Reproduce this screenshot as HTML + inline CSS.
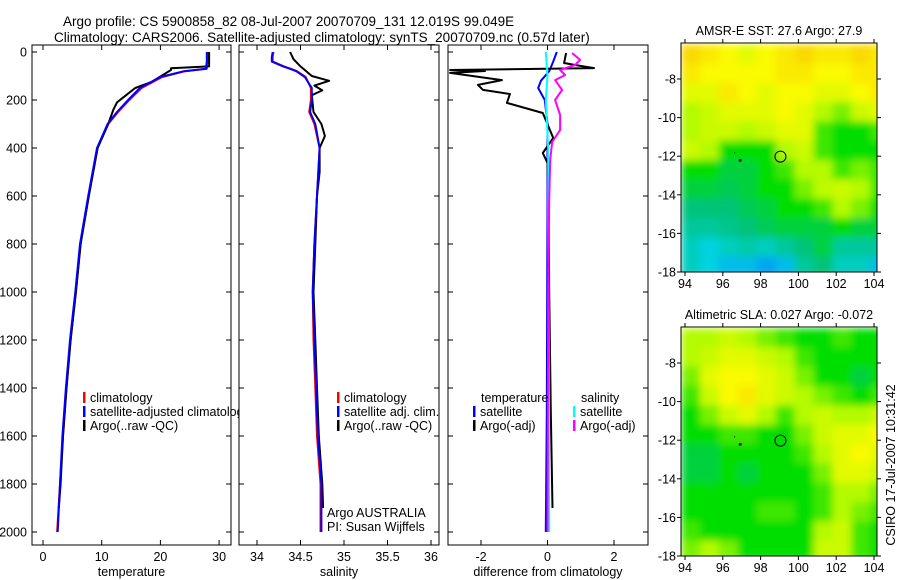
<!DOCTYPE html>
<html><head><meta charset="utf-8"><style>
body{margin:0;background:#fff;}
svg{display:block;font-family:"Liberation Sans",sans-serif;}
</style></head><body>
<svg id="c" width="900" height="580" viewBox="0 0 900 580">
<defs>
<filter id="bl" x="0" y="0" width="1" height="1"><feGaussianBlur stdDeviation="4" edgeMode="duplicate"/></filter>
<clipPath id="m1c"><rect x="681" y="43" width="196" height="229"/></clipPath>
<clipPath id="m2c"><rect x="681" y="327" width="196" height="229"/></clipPath>
<clipPath id="lg1"><rect x="0" y="380" width="238.5" height="60"/></clipPath>
</defs>
<text x="63" y="26" font-size="13.5">Argo profile: CS 5900858_82 08-Jul-2007 20070709_131 12.019S 99.049E</text>
<text x="54" y="42" font-size="13.5">Climatology: CARS2006. Satellite-adjusted climatology: synTS_20070709.nc (0.57d later)</text>
</svg>
<script>
// ---- data ----
const depths = [0,20,40,60,70,80,104,150,200,250,300,400,600,800,1000,1200,1400,1600,1800,2000];
const tempSat = [27.9,27.9,27.9,27.8,27.8,24,20,16.5,14.5,12.6,11,9.2,7.7,6.3,5.5,4.6,3.9,3.3,2.9,2.5];
const tempClim = [28,28,28,27.9,27.9,24.2,20.3,16.8,14.7,12.8,11.1,9.3,7.8,6.4,5.6,4.7,4,3.4,2.9,2.4];
const argoTempDepths = [0,30,60,68,75,117,125,150,210,240,300,400,600,800,1000,1200,1400,1600,1800,1900];
const argoTemp = [28.3,28.3,28.3,21.8,21.8,19,18.5,15.7,12.6,12,11.1,9.3,7.8,6.4,5.6,4.7,4,3.4,3,2.7];
const salSat = [34.18,34.17,34.17,34.3,34.38,34.45,34.55,34.63,34.63,34.61,34.67,34.72,34.69,34.66,34.64,34.66,34.68,34.7,34.74,34.74];
const salClim = [34.19,34.18,34.18,34.31,34.39,34.46,34.56,34.62,34.62,34.6,34.66,34.72,34.69,34.66,34.64,34.65,34.67,34.69,34.73,34.73];
const argoSalDepths = [0,30,60,100,120,140,160,180,250,300,350,400,500,600,800,1000,1200,1400,1600,1800,1900];
const argoSal = [34.38,34.42,34.5,34.63,34.83,34.66,34.75,34.63,34.65,34.74,34.78,34.72,34.72,34.69,34.67,34.65,34.67,34.69,34.71,34.75,34.76];
const diffTSatDepths = [0,40,80,120,150,200,300,600,1000,1500,2000];
const diffTSat = [0.28,0.17,0.05,-0.2,-0.28,-0.08,0,0,-0.01,-0.02,-0.05];
const diffTArgoDepths = [4,46,54,67,75,79,87,117,137,158,175,212,254,358,421,462,600,1000,1500,1900];
const diffTArgo = [0.56,0.5,0.83,1.4,-2.93,-1.88,-2.93,-1.37,-2.09,-1.94,-1.13,-1.22,-0.14,0.17,-0.14,0,0.03,0.05,0.1,0.15];
const diffSSatDepths = [0,100,200,400,1000,2000];
const diffSSat = [-0.05,0,-0.05,0.02,0.03,0.05];
const diffSArgoDepths = [4,33,54,75,96,117,158,200,262,325,375,450,617,1000,2000];
const diffSArgo = [0.74,0.98,0.83,0.38,0.53,0.23,0.44,0.23,0.38,0.38,0.14,0.08,0.05,0.02,0];
const depthTicks = [0,200,400,600,800,1000,1200,1400,1600,1800,2000];
const tempTicks = [0,10,20,30];
const salTicks = [34,34.5,35,35.5,36];
const diffTicks = [-2,0,2];
const lonTicks = [94,96,98,100,102,104];
const latTicks = [-8,-10,-12,-14,-16,-18];
const sstGrid = [
[.85,.8,.75,.7,.75,.8,.85,.8,.8,.85,.8],
[.8,.75,.75,.75,.75,.8,.8,.75,.75,.8,.8],
[.7,.7,.8,.75,.7,.75,.75,.7,.7,.75,.8],
[.6,.65,.7,.7,.7,.75,.7,.6,.55,.65,.7],
[.6,.65,.65,.6,.65,.7,.7,.5,.45,.45,.5],
[.65,.6,.45,.45,.45,.6,.65,.5,.45,.45,.45],
[.45,.45,.4,.4,.45,.5,.6,.6,.5,.55,.5],
[.4,.4,.38,.4,.45,.45,.55,.62,.65,.6,.5],
[.35,.35,.35,.38,.4,.45,.45,.5,.6,.55,.45],
[.3,.3,.32,.35,.38,.4,.4,.4,.45,.4,.4],
[.25,.2,.25,.28,.25,.3,.35,.4,.3,.3,.3],
[.25,.2,.15,.15,.1,.15,.3,.35,.25,.25,.15]];
const slaGrid = [
[.6,.6,.65,.6,.55,.5,.45,.45,.5,.45,.45],
[.6,.65,.7,.7,.65,.6,.5,.45,.45,.45,.45],
[.55,.7,.75,.75,.7,.65,.55,.45,.45,.4,.45],
[.5,.65,.75,.8,.7,.65,.6,.55,.5,.45,.5],
[.45,.55,.65,.7,.6,.5,.6,.65,.6,.6,.65],
[.45,.45,.5,.5,.45,.45,.55,.65,.7,.7,.75],
[.4,.4,.45,.45,.45,.45,.5,.6,.7,.75,.7],
[.4,.4,.45,.4,.45,.45,.45,.55,.7,.7,.65],
[.45,.45,.45,.45,.45,.45,.45,.5,.6,.6,.55],
[.45,.45,.45,.45,.5,.5,.45,.5,.6,.55,.5],
[.5,.45,.45,.45,.45,.45,.45,.6,.65,.5,.45],
[.55,.6,.55,.45,.45,.45,.45,.65,.65,.5,.45]];
const floatLon = 99.05, floatLat = -12.02;

// ---- helpers ----
const svg = document.getElementById('c');
const NS = 'http://www.w3.org/2000/svg';
function mk(tag, attrs, parent){const e=document.createElementNS(NS,tag);for(const k in attrs)e.setAttribute(k,attrs[k]);(parent||svg).appendChild(e);return e;}
const yD = d => 52 + d*0.24;
const panels = [
 {x0:32,x1:231,xs:v=>43+v*5.87,ticks:tempTicks,label:'temperature',name:'temperature-panel'},
 {x0:239,x1:439,xs:v=>257+(v-34)*87,ticks:salTicks,label:'salinity',name:'salinity-panel'},
 {x0:448,x1:648,xs:v=>547.5+v*33.25,ticks:diffTicks,label:'difference from climatology',name:'difference-panel'}];
panels.forEach((p,i)=>{
  const g=mk('g',{});
  
  
  mk('rect',{x:p.x0,y:45,width:p.x1-p.x0,height:500,fill:'none',stroke:'#000','stroke-width':1},g);
  depthTicks.forEach(d=>{
    const y=yD(d);
    mk('line',{x1:p.x0,y1:y,x2:p.x0+5,y2:y,stroke:'#000'},g);
    mk('line',{x1:p.x1,y1:y,x2:p.x1-5,y2:y,stroke:'#000'},g);
    if(i===0){const t=mk('text',{x:27,y:y+4.5,'font-size':12.5,'text-anchor':'end'},g);t.textContent=d;
      
      }
  });
  p.ticks.forEach(v=>{
    const x=p.xs(v);
    mk('line',{x1:x,y1:545,x2:x,y2:540,stroke:'#000'},g);
    mk('line',{x1:x,y1:45,x2:x,y2:50,stroke:'#000'},g);
    const t=mk('text',{x:x,y:561,'font-size':12.5,'text-anchor':'middle'},g);t.textContent=v;
    
    
  });
  const xl=mk('text',{x:(p.x0+p.x1)/2,y:576,'font-size':12.5,'text-anchor':'middle'},g);xl.textContent=p.label;
  
  
});
function line(ds,vs,xs,color,name,w){
  const pts=ds.map((d,i)=>xs(vs[i]).toFixed(1)+','+yD(d).toFixed(1)).join(' ');
  const l=mk('polyline',{points:pts,fill:'none',stroke:color,'stroke-width':w||2,'stroke-linejoin':'round'});
  
  
}
const P=panels;
line(depths,tempClim,P[0].xs,'#f00','temp-climatology-line');
line(argoTempDepths,argoTemp,P[0].xs,'#000','temp-argo-line');
line(depths,tempSat,P[0].xs,'#00f','temp-satellite-line');
line(depths,salClim,P[1].xs,'#f00','sal-climatology-line');
line(argoSalDepths,argoSal,P[1].xs,'#000','sal-argo-line');
line(depths,salSat,P[1].xs,'#00f','sal-satellite-line');
line(diffTSatDepths,diffTSat,P[2].xs,'#00f','diff-temp-satellite-line');
line(diffTArgoDepths,diffTArgo,P[2].xs,'#000','diff-temp-argo-line');
line(diffSSatDepths,diffSSat,P[2].xs,'#0ff','diff-sal-satellite-line');
line(diffSArgoDepths,diffSArgo,P[2].xs,'#f0f','diff-sal-argo-line');

function legend(x,y,color,text,name,clip){
  const g=mk('g',clip?{'clip-path':'url(#'+clip+')'}:{});
  
  
  if(color) mk('rect',{x:x,y:y-10,width:2.5,height:11,fill:color},g);
  const t=mk('text',{x:x+(color?7:0),y:y,'font-size':12.5},g);t.textContent=text;
}
legend(83,402,'#f00','climatology','legend-climatology','lg1');
legend(83,416,'#00f','satellite-adjusted climatology','legend-satellite-adjusted','lg1');
legend(83,430,'#000','Argo(..raw -QC)','legend-argo-raw','lg1');
legend(337,402,'#f00','climatology','legend-sal-climatology');
legend(337,416,'#00f','satellite adj. clim.','legend-sal-satellite');
legend(337,430,'#000','Argo(..raw -QC)','legend-sal-argo');
legend(327,517,null,'Argo AUSTRALIA','argo-australia-label');
legend(327,531,null,'PI: Susan Wijffels','pi-label');
legend(481,402,null,'temperature','legend-temperature-header');
legend(473,416,'#00f','satellite','legend-temp-satellite');
legend(473,430,'#000','Argo(-adj)','legend-temp-argo');
legend(581,402,null,'salinity','legend-salinity-header');
legend(573,416,'#0ff','satellite','legend-sal-satellite-diff');
legend(573,430,'#f0f','Argo(-adj)','legend-sal-argo-diff');

// ---- maps ----
function cmap(v){
  const stops=[[0,[0,120,255]],[0.2,[0,210,225]],[0.35,[0,195,120]],[0.45,[0,222,0]],[0.6,[180,250,0]],[0.75,[250,250,0]],[0.9,[250,200,0]],[1,[245,150,0]]];
  for(let i=1;i<stops.length;i++){if(v<=stops[i][0]){const a=stops[i-1],b=stops[i],t=(v-a[0])/(b[0]-a[0]);
    return 'rgb('+a[1].map((c,k)=>Math.round(c+(b[1][k]-c)*t)).join(',')+')';}}
  return 'rgb(245,150,0)';
}
function map(top,grid,title,name){
  const lonX=l=>685+(l-94)*18.9;
  const latY=l=>top+36+(-8-l)*19.3;
  const g=mk('g',{});
  
  
  const hg=mk('g',{'clip-path':'url(#'+(top<100?'m1c':'m2c')+')'},g);
  const bg=mk('g',{filter:'url(#bl)'},hg);
  grid.forEach((row,r)=>row.forEach((v,c)=>{
    const x0=lonX(93.8+c),y0=latY(-6.2-r);
    const cell=mk('rect',{x:x0,y:y0,width:19.5,height:20,fill:cmap(v)},bg);
    
    
  }));
  mk('rect',{x:681,y:top,width:196,height:229,fill:'none',stroke:'#000'},g);
  lonTicks.forEach(l=>{const x=lonX(l);
    mk('line',{x1:x,y1:top+229,x2:x,y2:top+233,stroke:'#000'},g);
    mk('line',{x1:x,y1:top,x2:x,y2:top-4,stroke:'#000'},g);
    const t=mk('text',{x:x,y:top+245,'font-size':12.5,'text-anchor':'middle'},g);t.textContent=l;
    
    });
  latTicks.forEach(l=>{const y=latY(l);
    mk('line',{x1:681,y1:y,x2:677,y2:y,stroke:'#000'},g);
    mk('line',{x1:877,y1:y,x2:881,y2:y,stroke:'#000'},g);
    const t=mk('text',{x:676,y:y+4.5,'font-size':12.5,'text-anchor':'end'},g);t.textContent=l;
    
    });
  const c=mk('circle',{cx:lonX(floatLon),cy:latY(floatLat),r:5.5,fill:'none',stroke:'#000','stroke-width':1},g);
  
  
  mk('rect',{x:lonX(96.85),y:latY(-12.15),width:2.5,height:2.5,fill:'#000'},g);
  mk('rect',{x:lonX(96.6),y:latY(-11.8),width:1,height:1,fill:'#000'},g);
  const t=mk('text',{x:779,y:top-8,'font-size':12.5,'text-anchor':'middle'},g);t.textContent=title;
  
  
}
map(43,sstGrid,'AMSR-E SST: 27.6 Argo: 27.9','sst-map');
map(327,slaGrid,'Altimetric SLA: 0.027 Argo: -0.072','sla-map');
const cs=mk('text',{x:0,y:0,'font-size':12.5,'text-anchor':'middle',transform:'translate(895,465) rotate(-90)'});
cs.textContent='CSIRO 17-Jul-2007 10:31:42';


</script>
</body></html>
